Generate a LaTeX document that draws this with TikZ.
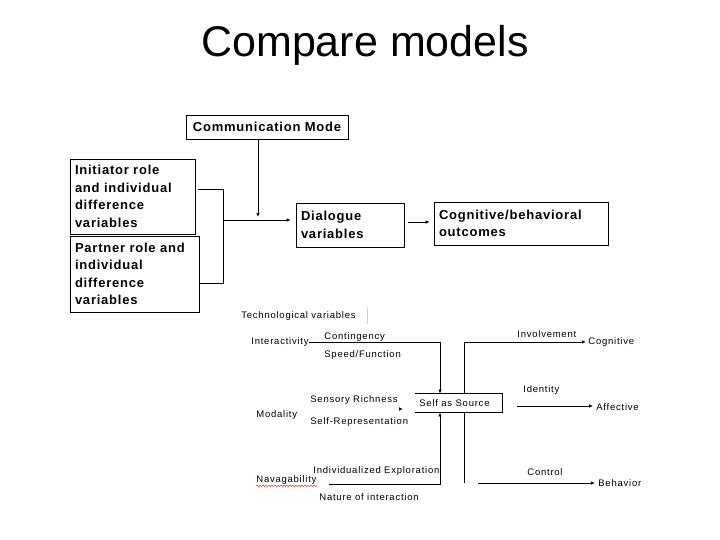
\documentclass[tikz,border=0pt]{standalone}
\usepackage{fontspec}
\setmainfont{Liberation Sans}
\newfontfamily\boxfont[LetterSpace=6]{Liberation Sans}
\newfontfamily\varfont[LetterSpace=8]{Liberation Sans}
\usetikzlibrary{arrows.meta,positioning,decorations.pathmorphing}

\begin{document}
\begin{tikzpicture}[x=1pt,y=-1pt,line width=0.8pt,>={Latex[length=4pt,width=3.5pt]},
                    box node/.style={draw,line width=0.7pt,inner sep=5pt,align=left,
                      font=\boxfont\bfseries\fontsize{13}{17.5}\selectfont},
                    var node/.style={inner sep=0pt,anchor=west,font=\varfont\fontsize{9.5}{11}\selectfont}]

  \useasboundingbox (0,0) rectangle (720,540);
  \node[font=\fontsize{43}{50}\selectfont] (title) at (365,45) {Compare models};

  \node[box node,minimum width=162pt,minimum height=24pt] (mode) at (267,127) {Communication Mode};
  \node[box node,text width=115pt,minimum height=75pt] (init) at (132.5,196.5) {Initiator role\\and individual\\difference\\variables};
  \node[box node,text width=119pt,minimum height=76pt] (partner) at (134.5,274) {Partner role and\\individual\\difference\\variables};
  \node[box node,text width=98pt,minimum height=44pt] (dial) at (350,225) {Dialogue\\variables};
  \node[box node,text width=164pt,minimum height=43pt] (outc) at (521,223.5) {Cognitive/behavioral\\outcomes};

  \coordinate (ia) at (223,189);
  \coordinate (pb) at (223,283);
  \coordinate (join) at (223,220);
  \coordinate (mj) at (258,217);
  \draw[shorten <=3pt] (init.east |- ia) -- (ia) -- (pb) -- (partner.east |- pb);
  \draw[->,shorten >=5pt] (join) -- (dial.west |- join);
  \draw[->] (mode.south -| mj) -- (mj);
  \draw[->,shorten <=4pt,shorten >=4pt] ([yshift=3pt]dial.east) -- ([yshift=3pt]dial.east -| outc.west);

  \node[var node] (tech) at (241,316) {Technological variables};
  \draw[gray!35,line width=0.6pt] (367,307) -- (367,324);
  \node[var node] (inter) at (251,342) {Interactivity};
  \node[var node] (cont) at (324,337) {Contingency};
  \node[var node] (speed) at (324,355) {Speed/Function};
  \node[var node] (modal) at (256,415) {Modality};
  \node[var node] (sens) at (310,400) {Sensory Richness};
  \node[var node] (srep) at (310,422) {Self-Representation};
  \node[var node] (expl) at (313,471) {Individualized Exploration};
  \node[var node] (nav) at (256,480) {Navagability};
  \node[var node] (nature) at (319,497) {Nature of interaction};
  \node[var node] (invol) at (517,334) {Involvement};
  \node[var node] (cogn) at (588,342) {Cognitive};
  \node[var node] (ident) at (523,390) {Identity};
  \node[var node] (affect) at (596,407) {Affective};
  \node[var node] (contr) at (527,472) {Control};
  \node[var node] (behav) at (598,483) {Behavior};
  \node[var node,minimum height=18pt] (self) at (419,403) {Self as Source};
  \draw ([xshift=-4pt]self.north west) -- ([xshift=12pt]self.north east)
        -- ([xshift=12pt]self.south east) -- ([xshift=-4pt]self.south west);

  \draw[red,line width=0.4pt,decorate,decoration={snake,amplitude=0.7pt,segment length=3pt}]
    ([yshift=-1pt]nav.south west) -- ([yshift=-1pt]nav.south east);

  \coordinate (lt) at (440,342);
  \coordinate (lb) at (440,484);
  \coordinate (ls) at (329,484);
  \coordinate (rt) at (464,342);
  \coordinate (rb) at (464,483);
  \coordinate (as) at (517,406);
  \coordinate (bs) at (478,483);
  \coordinate (sa) at (403,409);
  \draw[->] (inter.east) -- (lt) -- (lt |- self.north);
  \draw[->] (ls) -- (lb) -- (lb |- self.south);
  \draw (rt) -- (rt |- self.north);
  \draw (rb) -- (rb |- self.south);
  \draw[->,shorten >=2pt] (rt) -- (cogn.west);
  \draw[->,shorten >=3pt] (as) -- (as -| affect.west);
  \draw[->,shorten >=3pt] (bs) -- (behav.west);
  \draw[->] ([xshift=-3pt]sa) -- (sa);
\end{tikzpicture}
\end{document}
